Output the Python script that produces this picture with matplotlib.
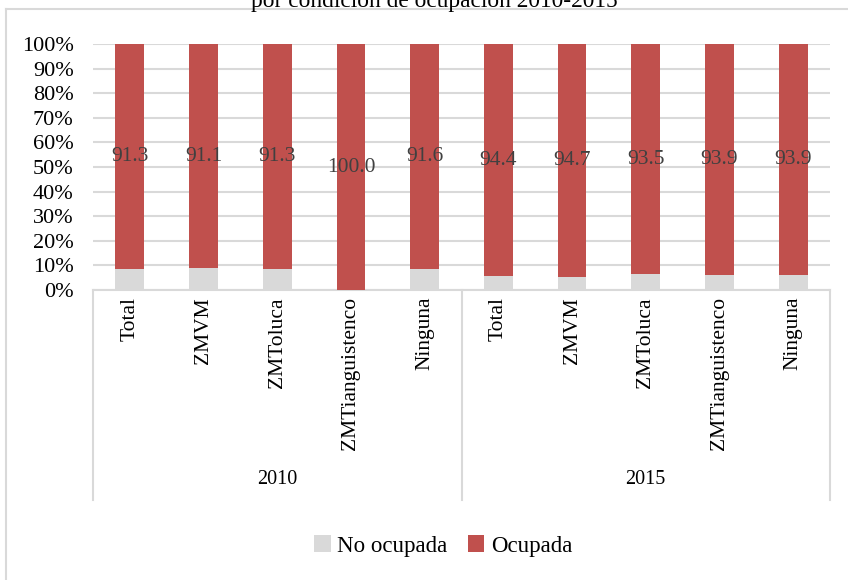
import matplotlib.pyplot as plt
import numpy as np
from matplotlib.lines import Line2D

groups = ["2010", "2015"]
categories = ["Total", "ZMVM", "ZMToluca", "ZMTianguistenco", "Ninguna"]
ocupada_2010 = [91.3, 91.1, 91.3, 100.0, 91.6]
ocupada_2015 = [94.4, 94.7, 93.5, 93.9, 93.9]

RED = "#C0504D"
GREY = "#D9D9D9"
SERIF = "Liberation Serif"

ocupada = np.array(ocupada_2010 + ocupada_2015)
no_ocupada = 100.0 - ocupada
labels = categories * len(groups)
x = np.arange(len(ocupada))

fig = plt.figure(figsize=(8.48, 5.8), dpi=100)
W, H = 848, 580
ax = fig.add_axes([93 / W, 1 - 290 / H, (830 - 93) / W, (290 - 44) / H])

ax.bar(x, no_ocupada / 100, width=0.39, color=GREY, label="No ocupada", zorder=3)
ax.bar(x, ocupada / 100, width=0.39, bottom=no_ocupada / 100, color=RED, label="Ocupada", zorder=3)

for xi, lo, v in zip(x, no_ocupada, ocupada):
    ax.text(xi, (lo + v / 2) / 100, f"{v:.1f}", ha="center", va="center",
            fontsize=15.5, color="#404040", family=SERIF, zorder=4)

ax.set_xlim(-0.5, len(x) - 0.5)
ax.set_ylim(0, 1)
ax.set_yticks(np.linspace(0, 1, 11))
ax.set_yticklabels([f"{int(round(t * 100))}%" for t in np.linspace(0, 1, 11)],
                   family=SERIF, fontsize=16)
ax.tick_params(axis="y", length=0, pad=14)
ax.tick_params(axis="x", length=0, labelbottom=False)
ax.grid(axis="y", color=GREY, lw=1.5, zorder=0)
for s in ["top", "right", "left"]:
    ax.spines[s].set_visible(False)
ax.spines["bottom"].set_color(GREY)
ax.spines["bottom"].set_linewidth(1.5)

trans = ax.get_xaxis_transform()
for xi, lab in zip(x, labels):
    ax.text(xi, -7 / 246, lab, rotation=90, ha="center", va="top",
            fontsize=15.5, family=SERIF, transform=trans)

for i, g in enumerate(groups):
    ax.text(i * 5 + 2, -(480 - 290) / 246, g, ha="center", va="center",
            fontsize=14.5, family=SERIF, transform=trans)

for xv in [-0.5, 4.5, 9.5]:
    ax.plot([xv, xv], [0, -(500 - 290) / 246], color=GREY, lw=1.5,
            transform=trans, clip_on=False)

leg = fig.legend(loc="center", bbox_to_anchor=(0.523, 1 - 546 / H), ncol=2,
                 frameon=False, prop={"family": SERIF, "size": 16.5},
                 handlelength=0.7, handleheight=0.7, handletextpad=0.3,
                 columnspacing=0.9)

# outer chart border and truncated title
fig.add_artist(Line2D([6 / W, 6 / W], [0, 1 - 9 / H], color=GREY, lw=1.5))
fig.add_artist(Line2D([6 / W, 1], [1 - 9 / H, 1 - 9 / H], color=GREY, lw=1.5))
fig.text(434 / W, 1 - 2 / H, "por condición de ocupación 2010-2015", ha="center",
         va="center", fontsize=16.8, family=SERIF)

fig.savefig("out.png", dpi=100)
